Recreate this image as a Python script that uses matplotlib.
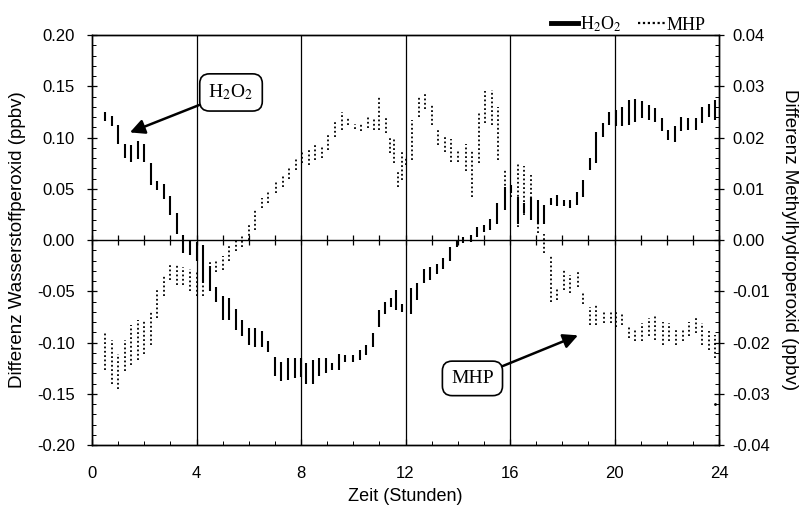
import numpy as np
import matplotlib
matplotlib.use("Agg")
import matplotlib.pyplot as plt
from matplotlib.lines import Line2D
from matplotlib.ticker import MultipleLocator, FormatStrFormatter, NullFormatter

plt.rcParams.update({"font.family": "Liberation Sans", "font.size": 12,
                     "mathtext.fontset": "stix", "axes.linewidth": 1.0})
SERIF = "Liberation Serif"

# --- H2O2 difference (ppbv, left axis): time, lower end, upper end of each bar ---
h_t = [0.5, 0.75, 1.0, 1.25, 1.5, 1.75, 2.0, 2.25, 2.5, 2.75, 3.0, 3.25, 3.5, 3.75,
       4.0, 4.25, 4.5, 4.75, 5.0, 5.25, 5.5, 5.75, 6.0, 6.25, 6.5, 6.75, 7.0, 7.25, 7.5, 7.75,
       8.0, 8.2, 8.45, 8.7, 8.95, 9.2, 9.45, 9.7, 10.0, 10.25, 10.5, 10.75, 11.0, 11.2, 11.45,
       11.65, 11.85, 12.2, 12.45, 12.7, 12.95, 13.2, 13.45, 13.7, 13.95, 14.2, 14.5, 14.75,
       15.0, 15.25, 15.5, 15.8, 16.05, 16.3, 16.55, 16.8, 17.05, 17.3, 17.55, 17.8, 18.05,
       18.3, 18.55, 18.8, 19.05, 19.3, 19.55, 19.8, 20.05, 20.3, 20.55, 20.8, 21.05, 21.3,
       21.55, 21.8, 22.05, 22.3, 22.55, 22.8, 23.1, 23.35, 23.6, 23.85]
h_lo = [0.116, 0.111, 0.094, 0.080, 0.076, 0.079, 0.076, 0.054, 0.049, 0.040, 0.024, 0.006,
        -0.013, -0.015, -0.020, -0.042, -0.050, -0.060, -0.078, -0.078, -0.088, -0.094, -0.102,
        -0.104, -0.104, -0.109, -0.133, -0.138, -0.137, -0.135, -0.134, -0.140, -0.140, -0.133,
        -0.130, -0.127, -0.127, -0.119, -0.119, -0.117, -0.112, -0.104, -0.085, -0.072, -0.065,
        -0.068, -0.070, -0.072, -0.059, -0.042, -0.039, -0.033, -0.028, -0.020, -0.007, -0.003,
        -0.002, 0.003, 0.008, 0.010, 0.016, 0.029, 0.046, 0.016, 0.026, 0.020, 0.016, 0.016,
        0.034, 0.033, 0.033, 0.031, 0.034, 0.042, 0.068, 0.075, 0.101, 0.112, 0.111, 0.111,
        0.112, 0.115, 0.119, 0.117, 0.115, 0.106, 0.098, 0.096, 0.106, 0.107, 0.107, 0.114,
        0.120, 0.117]
h_hi = [0.125, 0.121, 0.112, 0.094, 0.093, 0.097, 0.094, 0.075, 0.058, 0.055, 0.043, 0.026,
        0.005, 0.000, -0.002, -0.005, -0.025, -0.046, -0.055, -0.057, -0.067, -0.078, -0.086,
        -0.086, -0.089, -0.099, -0.114, -0.119, -0.115, -0.115, -0.115, -0.120, -0.117, -0.115,
        -0.115, -0.120, -0.111, -0.112, -0.112, -0.107, -0.102, -0.091, -0.068, -0.060, -0.057,
        -0.049, -0.062, -0.047, -0.042, -0.028, -0.026, -0.023, -0.018, -0.007, 0.000, 0.003,
        0.005, 0.013, 0.015, 0.021, 0.036, 0.052, 0.054, 0.042, 0.036, 0.042, 0.039, 0.034,
        0.041, 0.044, 0.039, 0.039, 0.047, 0.059, 0.080, 0.105, 0.114, 0.125, 0.127, 0.130,
        0.137, 0.138, 0.136, 0.132, 0.129, 0.119, 0.107, 0.111, 0.120, 0.119, 0.119, 0.130,
        0.133, 0.137]

# --- MHP difference (ppbv, right axis) ---
m_t = [0.5, 0.75, 1.0, 1.25, 1.5, 1.75, 2.0, 2.25, 2.5, 2.75, 3.0, 3.25, 3.5, 3.75, 4.0,
       4.25, 4.5, 4.75, 5.0, 5.25, 5.5, 5.75, 6.0, 6.25, 6.5, 6.75, 7.05, 7.3, 7.55, 7.8,
       8.05, 8.3, 8.55, 8.8, 9.05, 9.3, 9.55, 9.8, 10.05, 10.3, 10.55, 10.8, 11.0, 11.25,
       11.4, 11.55, 11.7, 11.85, 12.0, 12.25, 12.5, 12.75, 13.0, 13.25, 13.5, 13.75, 14.0,
       14.3, 14.55, 14.8, 15.05, 15.3, 15.55, 15.8, 16.05, 16.3, 16.55, 16.8, 17.05, 17.3,
       17.55, 17.8, 18.05, 18.3, 18.6, 18.8, 19.05, 19.3, 19.6, 19.85, 20.05, 20.3, 20.55,
       20.8, 21.05, 21.3, 21.55, 21.85, 22.1, 22.35, 22.6, 22.85, 23.1, 23.35, 23.6, 23.85]
m_lo = [-0.0254, -0.0280, -0.0290, -0.0256, -0.0244, -0.0234, -0.0222, -0.0204, -0.0152,
        -0.0110, -0.0078, -0.0088, -0.0088, -0.0100, -0.0110, -0.0110, -0.0098, -0.0062,
        -0.0058, -0.0040, -0.0022, -0.0014, 0.0000, 0.0020, 0.0062, 0.0072, 0.0092, 0.0104,
        0.0120, 0.0136, 0.0150, 0.0146, 0.0156, 0.0160, 0.0176, 0.0202, 0.0214, 0.0224,
        0.0216, 0.0212, 0.0218, 0.0214, 0.0214, 0.0208, 0.0170, 0.0150, 0.0104, 0.0118,
        0.0146, 0.0156, 0.0240, 0.0256, 0.0224, 0.0186, 0.0172, 0.0152, 0.0152, 0.0134,
        0.0084, 0.0150, 0.0228, 0.0224, 0.0156, 0.0072, 0.0084, 0.0026, 0.0048, 0.0040,
        0.0014, -0.0026, -0.0120, -0.0118, -0.0098, -0.0104, -0.0092, -0.0124, -0.0166,
        -0.0166, -0.0162, -0.0162, -0.0170, -0.0166, -0.0192, -0.0198, -0.0198, -0.0188,
        -0.0196, -0.0204, -0.0198, -0.0204, -0.0198, -0.0188, -0.0182, -0.0204, -0.0214,
        -0.0230]
m_hi = [-0.0178, -0.0196, -0.0222, -0.0196, -0.0166, -0.0156, -0.0156, -0.0140, -0.0094,
        -0.0068, -0.0046, -0.0048, -0.0052, -0.0056, -0.0060, -0.0045, -0.0040, -0.0040,
        -0.0032, -0.0010, 0.0000, 0.0010, 0.0030, 0.0058, 0.0082, 0.0098, 0.0118, 0.0126,
        0.0144, 0.0160, 0.0172, 0.0176, 0.0188, 0.0186, 0.0204, 0.0230, 0.0250, 0.0240,
        0.0226, 0.0226, 0.0244, 0.0238, 0.0280, 0.0238, 0.0202, 0.0202, 0.0136, 0.0176,
        0.0160, 0.0234, 0.0280, 0.0286, 0.0264, 0.0214, 0.0204, 0.0198, 0.0178, 0.0188,
        0.0176, 0.0248, 0.0290, 0.0292, 0.0260, 0.0136, 0.0108, 0.0152, 0.0144, 0.0126,
        0.0072, 0.0012, -0.0032, -0.0094, -0.0058, -0.0068, -0.0062, -0.0100, -0.0130,
        -0.0124, -0.0136, -0.0136, -0.0140, -0.0140, -0.0166, -0.0176, -0.0162, -0.0152,
        -0.0146, -0.0160, -0.0162, -0.0176, -0.0176, -0.0160, -0.0152, -0.0162, -0.0178,
        -0.0186]
m_out_t = [23.85]
m_out_v = [-0.0320]

fig = plt.figure(figsize=(8.05, 5.08), dpi=100)
ax = fig.add_axes([0.1143, 0.124, 0.779, 0.807])
ax2 = ax.twinx()

ax.vlines(h_t, h_lo, h_hi, color="black", lw=1.5, zorder=3)
ax2.vlines(m_t, m_lo, m_hi, color="black", lw=1.3, linestyles=(0, (1, 1.4)), zorder=3)
ax2.plot(m_out_t, m_out_v, ".", color="black", ms=2)

for v in [4, 8, 12, 16, 20]:
    ax.axvline(v, color="black", lw=0.9, zorder=1)

ax.set_xlim(0, 24)
ax.set_ylim(-0.2, 0.2)
ax2.set_ylim(-0.04, 0.04)
ax.xaxis.set_major_locator(MultipleLocator(4))
ax.xaxis.set_minor_locator(MultipleLocator(1))
ax.yaxis.set_major_locator(MultipleLocator(0.05))
ax.yaxis.set_minor_locator(MultipleLocator(0.01))
ax.yaxis.set_major_formatter(FormatStrFormatter("%.2f"))
ax2.yaxis.set_major_locator(MultipleLocator(0.01))
ax2.yaxis.set_minor_locator(MultipleLocator(0.002))
ax2.yaxis.set_major_formatter(FormatStrFormatter("%.2f"))
ax.tick_params(which="major", direction="inout", length=7, width=0.9, labelsize=12, pad=9)
ax.tick_params(which="minor", direction="in", length=3, width=0.7)
ax.tick_params(axis="x", which="major", direction="in", length=4, pad=15)
ax2.tick_params(which="major", direction="inout", length=7, width=0.9, labelsize=12, pad=6)
ax2.tick_params(which="minor", direction="in", length=3, width=0.7)

# zero line with hour ticks
zl = ax.secondary_xaxis(0.5)
zl.xaxis.set_major_locator(MultipleLocator(1))
zl.xaxis.set_major_formatter(NullFormatter())
zl.tick_params(direction="inout", length=7, width=0.9, labelbottom=False, labeltop=False)
zl.spines["bottom"].set_linewidth(1.2)

ax.set_xlabel("Zeit (Stunden)", fontsize=13, labelpad=5)
ax.set_ylabel("Differenz Wasserstoffperoxid (ppbv)", fontsize=13.5, labelpad=8)
ax2.set_ylabel("Differenz Methylhydroperoxid (ppbv)", fontsize=13.5, rotation=270, labelpad=20)

box = dict(boxstyle="round,pad=0.45,rounding_size=0.5", fc="white", ec="black", lw=1.2)
arr = dict(arrowstyle="-|>", color="black", lw=1.8, mutation_scale=22, shrinkA=0, shrinkB=0)
ax.annotate("H$_2$O$_2$", xy=(1.45, 0.105), xytext=(5.32, 0.144), ha="center", va="center",
            fontsize=14, family=SERIF, bbox=box, arrowprops=arr, zorder=5)
ax.annotate("MHP", xy=(18.6, -0.093), xytext=(14.56, -0.135), ha="center", va="center",
            fontsize=14, family=SERIF, bbox=box, arrowprops=arr, zorder=5)

handles = [Line2D([], [], color="black", lw=3.5),
           Line2D([], [], color="black", lw=1.6, ls=(0, (1, 1.2)))]
ax.legend(handles, ["H$_2$O$_2$", "MHP"], loc="lower right", bbox_to_anchor=(0.99, 0.985),
          ncol=2, frameon=False, handlelength=1.5, handletextpad=0.1, columnspacing=0.9,
          borderaxespad=0, prop={"family": SERIF, "size": 13})

fig.savefig("out.png", dpi=100, facecolor="white")
